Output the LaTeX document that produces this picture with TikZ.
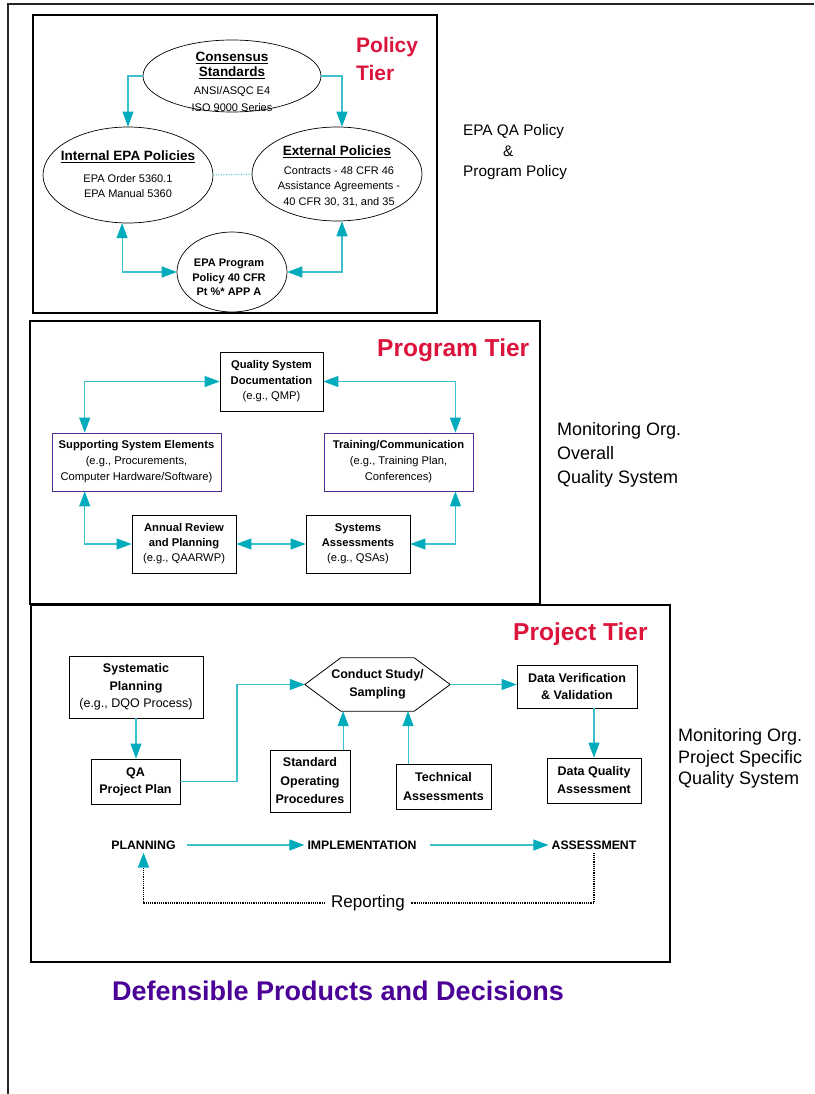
\documentclass[tikz,border=0pt]{standalone}
\usepackage{fontspec}
\setmainfont{Liberation Sans}
\usetikzlibrary{arrows.meta,shapes.geometric,calc}
\definecolor{tierred}{RGB}{220,20,60}
\definecolor{lineteal}{RGB}{60,192,204}
\definecolor{headteal}{RGB}{0,172,188}
\definecolor{boxpurple}{RGB}{80,45,150}
\definecolor{defpurple}{RGB}{75,0,150}
\newcommand\fsz[2]{\fontsize{#1}{#2}\selectfont}
\begin{document}
\begin{tikzpicture}[x=1pt,y=-1pt,
  tier/.style={draw=black, line width=1.6pt},
  ell/.style={ellipse, draw, line width=0.7pt, inner sep=0pt},
  bx/.style={rectangle, draw, line width=0.8pt, inner sep=1pt, align=center},
  pbx/.style={bx, draw=boxpurple},
  tx/.style={inner sep=0pt, align=center},
  conn/.style={draw=lineteal, line width=1.1pt, -{Triangle[length=15pt,width=11pt,color=headteal]}},
  dconn/.style={draw=lineteal, line width=1.1pt, {Triangle[length=15pt,width=11pt,color=headteal]}-{Triangle[length=15pt,width=11pt,color=headteal]}},
  tealdots/.style={draw=lineteal, line width=1pt, dash pattern=on 1pt off 1.5pt},
  rdot/.style={draw=black, line width=1.2pt, dash pattern=on 1.2pt off 1pt},
  bxline/.style={draw=black, line width=0.8pt}]
\useasboundingbox (0,0) rectangle (814,1094);

% outer frame
\draw[line width=1.8pt, black!85] (814,4) -- (8,4) -- (8,1094);

% ---------------- Policy tier
\draw[tier] (33,15) rectangle (437,313);
\node[tx, align=left, anchor=west, text=tierred, font=\bfseries\fsz{21}{28}] (poltier) at (356,59) {Policy\\Tier};

\node[ell, minimum width=178pt, minimum height=72pt] (cons) at (232,76) {};
\node[tx, font=\bfseries\fsz{13.5}{15}] (constt) at (232,65.5) {\underline{Consensus}\\\underline{Standards}};
\node[tx, font=\fsz{11}{17}] (conssub) at (232,99.5) {ANSI/ASQC E4\\ISO 9000 Series};

\node[ell, minimum width=170pt, minimum height=96pt] (int) at (128,175) {};
\node[tx, font=\bfseries\fsz{13.5}{15}] (inttt) at (128,157) {\underline{Internal EPA Policies}};
\node[tx, font=\fsz{11}{14.5}] (intsub) at (128,186) {EPA Order 5360.1\\EPA Manual 5360};

\node[ell, minimum width=170pt, minimum height=94pt] (ext) at (337,174) {};
\node[tx, font=\bfseries\fsz{13.5}{15}] (exttt) at (337,152) {\underline{External Policies}};
\node[tx, font=\fsz{11}{15.5}] (extsub) at (339,186.5) {Contracts - 48 CFR 46\\Assistance Agreements -\\40 CFR 30, 31, and 35};

\node[ell, minimum width=110pt, minimum height=80pt] (prog) at (232,272) {};
\node[tx, font=\bfseries\fsz{11}{14.5}] (progtx) at (229,277.5) {EPA Program\\Policy 40 CFR\\Pt \%* APP A};

\draw[conn] (cons.west) -| (int.north);
\draw[conn] (cons.east) -| (ext.84);
\draw[dconn] (int.263) |- (prog.west);
\draw[dconn] (ext.276) |- (prog.east);
\draw[tealdots] (int.east) -- (ext.west);

\node[tx, align=left, anchor=west, font=\fsz{15.3}{20.5}] (epa) at (463,152.5) {EPA QA Policy\\\hspace*{40pt}\&\\Program Policy};

% ---------------- Program tier
\draw[tier] (30,321) rectangle (540,604);
\node[tx, anchor=west, text=tierred, font=\bfseries\fsz{24.5}{28}] (progtier) at (377,350) {Program Tier};

\node[bx, minimum width=103pt, minimum height=59pt, font=\fsz{11.2}{15.5}] (qsd) at (271.5,381.5) {\textbf{Quality System}\\\textbf{Documentation}\\(e.g., QMP)};
\node[pbx, minimum width=169pt, minimum height=58pt, font=\fsz{11.2}{16}] (sup) at (136.5,462) {\textbf{Supporting System Elements}\\(e.g., Procurements,\\Computer Hardware/Software)};
\node[pbx, minimum width=149pt, minimum height=58pt, font=\fsz{11.2}{16}] (trn) at (398.5,462) {\textbf{Training/Communication}\\(e.g., Training Plan,\\Conferences)};
\node[bx, minimum width=104pt, minimum height=58pt, font=\fsz{11.2}{15}] (ann) at (184,544) {\textbf{Annual Review}\\\textbf{and Planning}\\(e.g., QAARWP)};
\node[bx, minimum width=104pt, minimum height=58pt, font=\fsz{11.2}{15}] (sys) at (358,544) {\textbf{Systems}\\\textbf{Assessments}\\(e.g., QSAs)};

\draw[dconn] (qsd.west) -| ($(sup.north west)!0.195!(sup.north east)$);
\draw[dconn] (qsd.east) -| ($(trn.north west)!0.88!(trn.north east)$);
\draw[dconn] ($(sup.south west)!0.195!(sup.south east)$) |- (ann.west);
\draw[dconn] (ann.east) -- (sys.west);
\draw[dconn] ($(trn.south west)!0.88!(trn.south east)$) |- (sys.east);

\node[tx, align=left, anchor=west, font=\fsz{18}{24}] (mon1) at (557,455) {Monitoring Org.\\Overall\\Quality System};

% ---------------- Project tier
\draw[tier] (31,605) rectangle (670,962);
\node[tx, anchor=west, text=tierred, font=\bfseries\fsz{24.5}{28}] (projtier) at (513,634) {Project Tier};

\node[bx, minimum width=134pt, minimum height=62pt, font=\fsz{12.5}{17.5}] (syp) at (136,687) {\textbf{Systematic}\\\textbf{Planning}\\(e.g., DQO Process)};
\node[bx, minimum width=89pt, minimum height=45pt, font=\bfseries\fsz{12.5}{17}] (qap) at (135.5,781.5) {QA\\Project Plan};
\node[tx, minimum width=145pt, minimum height=53pt, font=\bfseries\fsz{12.5}{18}] (hex) at (377.5,684.5) {Conduct Study/\\Sampling};
\draw[bxline] (hex.west) -- ($(hex.north west)+(36,0)$) -- ($(hex.north east)+(-36,0)$) -- (hex.east) -- ($(hex.south east)+(-36,0)$) -- ($(hex.south west)+(36,0)$) -- cycle;
\node[bx, minimum width=120pt, minimum height=43pt, font=\bfseries\fsz{12.5}{17}] (dv) at (577,686.5) {Data Verification\\\& Validation};
\node[bx, minimum width=94pt, minimum height=45pt, font=\bfseries\fsz{12.5}{18}] (dqa) at (594,780.5) {Data Quality\\Assessment};
\node[bx, minimum width=80pt, minimum height=62pt, font=\bfseries\fsz{12.5}{18.5}] (sop) at (310,781) {Standard\\Operating\\Procedures};
\node[bx, minimum width=95pt, minimum height=45pt, font=\bfseries\fsz{12.5}{19}] (ta) at (443.5,786.5) {Technical\\Assessments};

\coordinate (qbend) at (237,781.5);
\coordinate (sopt) at ($(sop.north west)!0.91!(sop.north east)$);
\coordinate (tat) at ($(ta.north west)!0.13!(ta.north east)$);
\draw[conn] (syp.south) -- (syp.south |- qap.north);
\draw[conn] (qap.east) -- (qbend) |- (hex.west);
\draw[conn] (hex.east) -- (hex.east -| dv.west);
\draw[conn] (dv.south -| dqa.north) -- (dqa.north);
\draw[conn] (sopt) -- (sopt |- hex.south);
\draw[conn] (tat) -- (tat |- hex.south);

\node[tx, inner sep=3pt, font=\bfseries\fsz{12.3}{14}] (plan) at (143.5,845) {PLANNING};
\node[tx, inner sep=3pt, font=\bfseries\fsz{12.3}{14}] (impl) at (362,845) {IMPLEMENTATION};
\node[tx, inner sep=3pt, font=\bfseries\fsz{12.3}{14}] (asmt) at (594,845) {ASSESSMENT};
\draw[conn, shorten <=8pt] (plan.east) -- (impl.west);
\draw[conn, shorten <=10pt] (impl.east) -- (asmt.west);

\node[tx, inner sep=6pt, font=\fsz{17}{20}] (rep) at (368,903) {Reporting};
\draw[rdot] (asmt.south) |- (rep.east);
\draw[rdot, -{Triangle[length=15pt,width=11pt,color=headteal]}] (rep.west) -| (plan.south);

\node[tx, align=left, anchor=west, font=\fsz{18}{21.5}] (mon2) at (678,758.5) {Monitoring Org.\\Project Specific\\Quality System};

% ---------------- footer
\node[tx, text=defpurple, font=\bfseries\fsz{27}{30}] (def) at (338,991) {Defensible Products and Decisions};
\end{tikzpicture}
\end{document}
